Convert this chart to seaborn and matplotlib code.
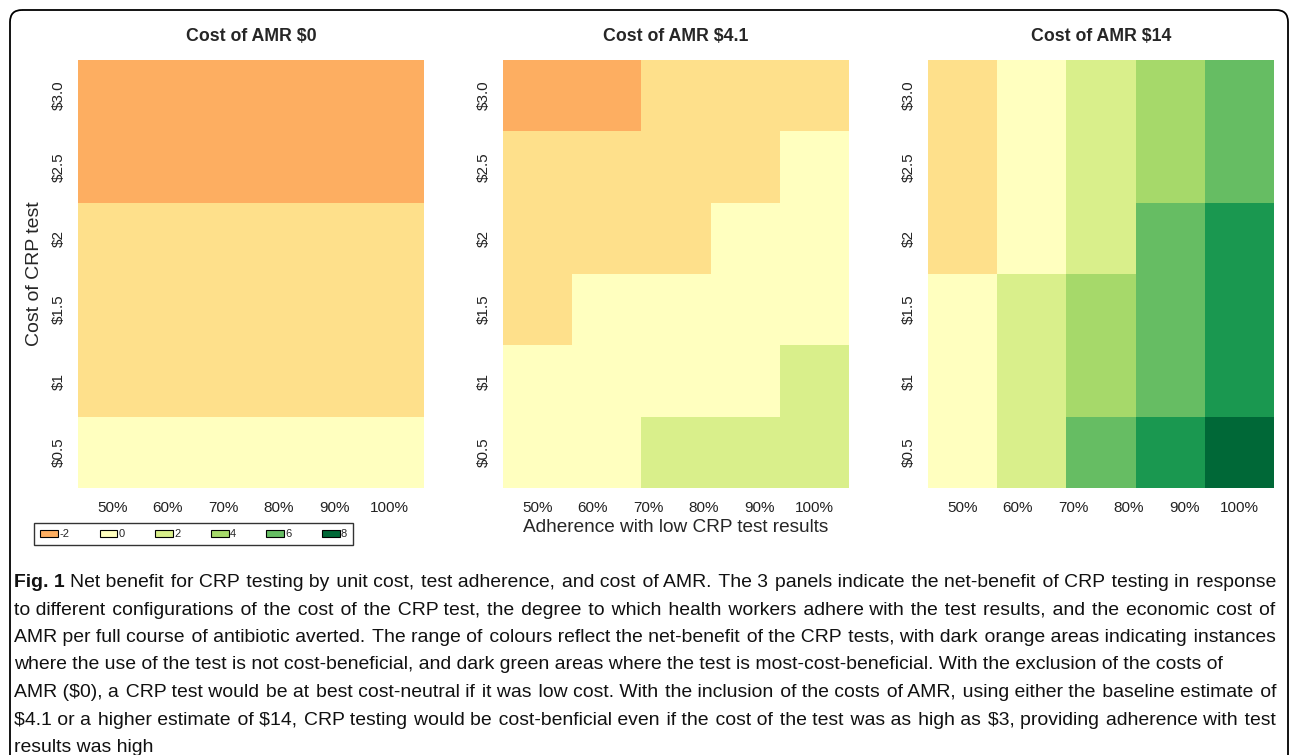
import numpy as np
import pandas as pd
import seaborn as sns
import matplotlib.pyplot as plt
from matplotlib.colors import ListedColormap, BoundaryNorm
from matplotlib.patches import Patch, FancyBboxPatch
from matplotlib import font_manager

sns.set_style('white')
plt.rcParams['font.family'] = ['Liberation Sans', 'DejaVu Sans']
plt.rcParams['text.parse_math'] = False

# Data: net benefit per cell, rows = cost of CRP test (top to bottom), cols = adherence bins
crp_cost = ['$3.0', '$2.5', '$2', '$1.5', '$1', '$0.5']
adherence = ['50%', '60%', '70%', '80%', '90%', '100%']
panel_titles = ['Cost of AMR $0', 'Cost of AMR $4.1', 'Cost of AMR $14']

nb_amr_0 = [[-2, -2, -2, -2, -2],
            [-2, -2, -2, -2, -2],
            [-1, -1, -1, -1, -1],
            [-1, -1, -1, -1, -1],
            [-1, -1, -1, -1, -1],
            [0, 0, 0, 0, 0]]
nb_amr_4_1 = [[-2, -2, -1, -1, -1],
              [-1, -1, -1, -1, 0],
              [-1, -1, -1, 0, 0],
              [-1, 0, 0, 0, 0],
              [0, 0, 0, 0, 2],
              [0, 0, 2, 2, 2]]
nb_amr_14 = [[-1, 0, 2, 4, 6],
             [-1, 0, 2, 4, 6],
             [-1, 0, 2, 6, 7],
             [0, 2, 4, 6, 7],
             [0, 2, 4, 6, 7],
             [0, 2, 6, 7, 8]]

levels = [-2, -1, 0, 2, 4, 6, 7, 8]
level_colors = ['#fdae61', '#fee08b', '#ffffbf', '#d9ef8b', '#a6d96a', '#66bd63', '#1a9850', '#006837']
legend_levels = [-2, 0, 2, 4, 6, 8]

caption_bold = 'Fig. 1'
caption = [
    'Net benefit for CRP testing by unit cost, test adherence, and cost of AMR. The 3 panels indicate the net-benefit of CRP testing in response',
    'to different configurations of the cost of the CRP test, the degree to which health workers adhere with the test results, and the economic cost of',
    'AMR per full course of antibiotic averted. The range of colours reflect the net-benefit of the CRP tests, with dark orange areas indicating instances',
    'where the use of the test is not cost-beneficial, and dark green areas where the test is most-cost-beneficial. With the exclusion of the costs of',
    'AMR ($0), a CRP test would be at best cost-neutral if it was low cost. With the inclusion of the costs of AMR, using either the baseline estimate of',
    '$4.1 or a higher estimate of $14, CRP testing would be cost-benficial even if the cost of the test was as high as $3, providing adherence with test',
    'results was high',
]
justified = [True, True, True, False, True, True, False]

# colour scale
bounds = [-2.5, -1.5, -0.5, 1, 3, 5, 6.5, 7.5, 8.5]
cmap = ListedColormap(level_colors)
norm = BoundaryNorm(bounds, cmap.N)

fig = plt.figure(figsize=(12.9, 7.55), dpi=100)

# overlay in pixel coords for border + caption
ov = fig.add_axes([0, 0, 1, 1])
ov.set_xlim(0, 1290)
ov.set_ylim(755, 0)
ov.axis('off')
ov.set_zorder(-1)
ov.add_patch(FancyBboxPatch((10, 10), 1278, 800, boxstyle='round,pad=0,rounding_size=12',
                            fill=False, ec='black', lw=1.3))

lefts = [78, 503, 928]
for i, (title, vals) in enumerate(zip(panel_titles, [nb_amr_0, nb_amr_4_1, nb_amr_14])):
    ax = fig.add_axes([lefts[i] / 1290, 1 - 488 / 755, 346 / 1290, 428 / 755])
    df = pd.DataFrame(vals, index=crp_cost)
    sns.heatmap(df, ax=ax, cmap=cmap, norm=norm, cbar=False, xticklabels=False, yticklabels=crp_cost)
    ax.set_xticks(np.linspace(0.5, 4.5, 6))
    ax.set_xticklabels(adherence)
    ax.set_yticklabels(crp_cost, rotation=90, va='center')
    ax.tick_params(length=0, labelsize=11, colors='#222222')
    ax.tick_params(axis='y', pad=9)
    ax.tick_params(axis='x', pad=9)
    ax.set_title(title, fontsize=12.8, fontweight='bold', pad=14)
    ax.set_ylabel('')
    if i == 0:
        ax.set_ylabel('Cost of CRP test', fontsize=14, labelpad=6)
    if i == 1:
        ax.set_xlabel('Adherence with low CRP test results', fontsize=13.7, labelpad=3)

handles = [Patch(facecolor=level_colors[levels.index(v)], edgecolor='black', linewidth=0.8)
           for v in legend_levels]
leg = fig.legend(handles, [str(v) for v in legend_levels], loc='upper left',
                 bbox_to_anchor=(34 / 1290, 1 - 523 / 755), borderaxespad=0, ncol=6, frameon=True,
                 fancybox=False, edgecolor='black', fontsize=8, handlelength=1.6, handleheight=0.6,
                 handletextpad=0.1, columnspacing=2.75, borderpad=0.55)
leg.get_frame().set_linewidth(1.0)


# caption, justified like the journal page; prefer a condensed face if one is installed
def condensed_face():
    for fam in ['Liberation Sans Narrow', 'Noto Sans', 'Roboto', 'Open Sans', 'Inter']:
        for stretch in ['condensed', 'semi-condensed']:
            try:
                path = font_manager.findfont(font_manager.FontProperties(family=fam, stretch=stretch),
                                             fallback_to_default=False)
            except ValueError:
                continue
            low = path.lower()
            if 'condensed' in low or 'narrow' in low:
                return fam, stretch
    return 'Liberation Sans', 'normal'


cap_family, cap_stretch = condensed_face()
cap_fams = [cap_family, 'DejaVu Sans']
fig.canvas.draw()
renderer = fig.canvas.get_renderer()


def text_w(s, size, weight='normal'):
    t = ov.text(0, 0, s, fontsize=size, family=cap_fams, fontstretch=cap_stretch, fontweight=weight)
    w = t.get_window_extent(renderer).width
    t.remove()
    return w


x0, x1 = 14, 1276
probe = text_w(caption_bold + ' ' + caption[0], 10)
cap_size = min(10 * (x1 - x0) / probe * 0.985, 14)
space_w = text_w('a a', cap_size) - text_w('aa', cap_size)
hair = '\u200a'
hair_w = (text_w('a' + hair * 20 + 'a', cap_size) - text_w('aa', cap_size)) / 20


def justify(line, width):
    # widen the word gaps with hair spaces so one line of text fills the width
    words = line.split(' ')
    if len(words) < 2 or hair_w <= 0:
        return line
    extra = width - text_w(line, cap_size)
    n = max(0, int(round(extra / hair_w)))
    gaps = len(words) - 1
    out = words[0]
    for j in range(gaps):
        k = (n * (j + 1)) // gaps - (n * j) // gaps
        out += ' ' + hair * k + words[j + 1]
    return out


for k, line in enumerate(caption):
    y = 587 + round(27.5 * k)
    x = x0
    if k == 0:
        ov.text(x0, y, caption_bold, fontsize=cap_size, family=cap_fams, fontstretch=cap_stretch,
                fontweight='bold', ha='left', va='baseline', color='#111111')
        x = x0 + text_w(caption_bold, cap_size, 'bold') + space_w
    s = justify(line, x1 - x) if justified[k] else line
    ov.text(x, y, s, fontsize=cap_size, family=cap_fams, fontstretch=cap_stretch,
            ha='left', va='baseline', color='#111111')

fig.savefig('out.png', dpi=100)
